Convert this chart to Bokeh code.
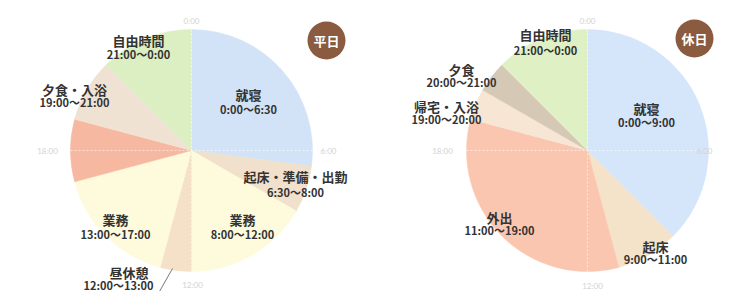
import math
from bokeh.plotting import figure
from bokeh.models import Range1d, ColumnDataSource
from bokeh.core.properties import value
from bokeh.embed import file_html
from bokeh.resources import INLINE

# ---------------- data ----------------
weekday_names = ["就寝", "起床・準備・出勤", "業務", "昼休憩", "業務", "", "夕食・入浴", "自由時間"]
weekday_ranges = ["0:00〜6:30", "6:30〜8:00", "8:00〜12:00", "12:00〜13:00",
                  "13:00〜17:00", "", "19:00〜21:00", "21:00〜0:00"]
weekday_start = [0, 6.5, 8, 12, 13, 17, 19, 21]
weekday_end = [6.5, 8, 12, 13, 17, 19, 21, 24]

holiday_names = ["就寝", "起床", "外出", "帰宅・入浴", "夕食", "自由時間"]
holiday_ranges = ["0:00〜9:00", "9:00〜11:00", "11:00〜19:00", "19:00〜20:00",
                  "20:00〜21:00", "21:00〜0:00"]
holiday_start = [0, 9, 11, 19, 20, 21]
holiday_end = [9, 11, 19, 20, 21, 24]

clock_ticks = ["0:00", "6:00", "12:00", "18:00"]
badges = ["平日", "休日"]

# ---------------- styles / layout ----------------
weekday_colors = ["#d3e3f7", "#f1e0cb", "#fdfbdc", "#f5e0c8", "#fdfbdc",
                  "#f7b8a2", "#f0e2d2", "#dcefc3"]
holiday_colors = ["#d5e5fa", "#f5e3c9", "#fbc6b0", "#f6e6d3", "#d5c8b5", "#dff0c4"]

W, H = 715, 291

def yd(y_img):
    return -y_img

R = 121
pies = [
    dict(cx=191, cy=150, start=weekday_start, end=weekday_end, colors=weekday_colors,
         names=weekday_names, ranges=weekday_ranges,
         pos=[(248, 94, 108), (295, 176, 191), (242, 219, 233), (148, 272, 284),
              (115, 219, 233), (0, 0, 0), (74, 89, 101), (138, 40, 53)],
         aligns=["center", "center", "center", "right", "center", "center", "center", "center"],
         tick_pos=[(191, 20), (328, 150), (192, 284), (47, 150)],
         badge=(326, 40)),
    dict(cx=587, cy=150, start=holiday_start, end=holiday_end, colors=holiday_colors,
         names=holiday_names, ranges=holiday_ranges,
         pos=[(646, 108, 121), (655, 246, 258), (499, 217, 229), (446, 106, 118),
              (461, 69, 81), (545, 34, 49)],
         aligns=["center"] * 6,
         tick_pos=[(587, 20), (704, 150), (592, 285), (442, 150)],
         badge=(694, 38)),
]

p = figure(width=W, height=H, output_backend="svg", toolbar_location=None,
           x_range=Range1d(0, W), y_range=Range1d(-H, 0),
           min_border=0, outline_line_color=None, background_fill_color="white",
           border_fill_color="white")
p.axis.visible = False
p.grid.visible = False

FONT = value("Noto Sans CJK JP")

def ang(h):
    return math.pi / 2 - h / 24.0 * 2 * math.pi

for k, pie in enumerate(pies):
    src = ColumnDataSource(dict(
        x=[pie["cx"]] * len(pie["start"]),
        y=[yd(pie["cy"])] * len(pie["start"]),
        s=[ang(h) for h in pie["start"]],
        e=[ang(h) for h in pie["end"]],
        c=pie["colors"]))
    p.wedge(x="x", y="y", radius=R, start_angle="s", end_angle="e",
            direction="clock", fill_color="c", line_color="c", line_width=0.5, source=src)

    # faint white dashed cross
    cx, cy = pie["cx"], yd(pie["cy"])
    p.segment(x0=[cx - R, cx], y0=[cy, cy - R], x1=[cx + R, cx], y1=[cy, cy + R],
              line_color="white", line_width=1, line_dash="2 2", line_alpha=0.6)

    # clock tick labels
    tx = [t[0] for t in pie["tick_pos"]]
    ty = [yd(t[1]) for t in pie["tick_pos"]]
    p.text(x=tx, y=ty, text=clock_ticks, text_font=value("Lato"), text_font_size="8px",
           text_color="#d2d2d2", text_align="center", text_baseline="middle")

    # slice labels
    for i, (nm, rg) in enumerate(zip(pie["names"], pie["ranges"])):
        if not nm:
            continue
        lx, ty1, ty2 = pie["pos"][i]
        al = pie["aligns"][i]
        x1 = lx
        x2 = lx + 5 if al == "right" else lx
        p.text(x=[x1], y=[yd(ty1)], text=[nm], text_font=FONT, text_font_size="13px",
               text_font_style="bold", text_color="#333333", text_align=al,
               text_baseline="middle")
        p.text(x=[x2], y=[yd(ty2)], text=[rg], text_font=FONT, text_font_size="11px",
               text_font_style="bold", text_color="#333333", text_align=al,
               text_baseline="middle")

    # badge
    bx, by = pie["badge"]
    p.scatter(x=[bx], y=[yd(by)], size=38, marker="circle", fill_color="#8b5b40",
              line_color=None)
    p.text(x=[bx], y=[yd(by)], text=[badges[k]], text_font=FONT, text_font_size="13px",
           text_font_style="bold", text_color="white", text_align="center",
           text_baseline="middle")

# leader line for 昼休憩
p.line(x=[172, 159], y=[yd(268), yd(291)], line_color="#555555", line_width=0.8)

open("out.html", "w").write(file_html(p, INLINE))
